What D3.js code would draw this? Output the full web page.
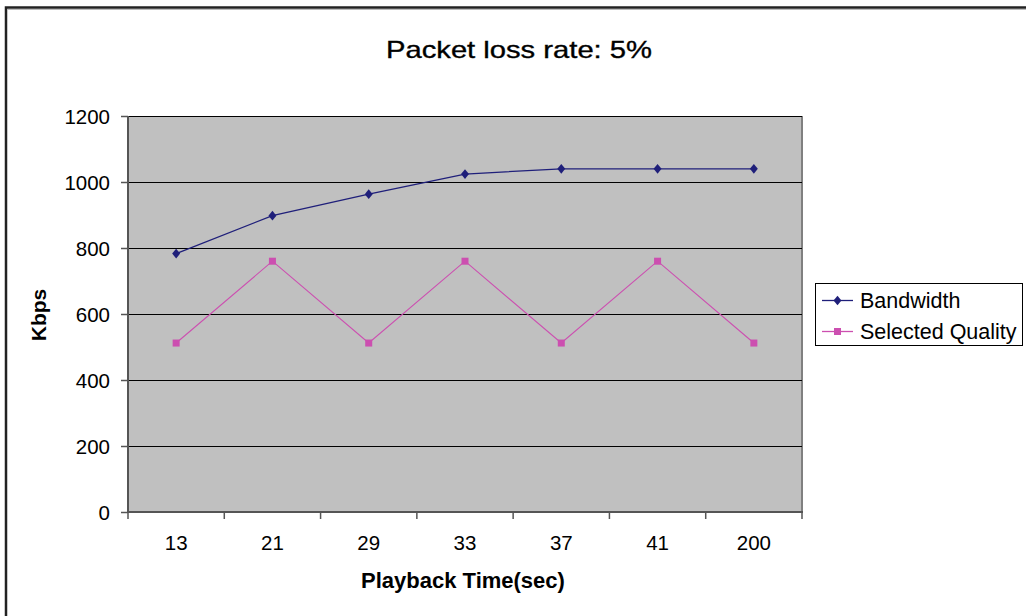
<!DOCTYPE html>
<html><head><meta charset="utf-8">
<script src="https://cdn.jsdelivr.net/npm/d3@7"></script>
<style>body{margin:0;background:#fff}svg{display:block}text{font-family:"Liberation Sans",Arial,sans-serif}</style>
</head><body>
<svg id="c" width="1026" height="616"></svg>
<script>
const categories = ["13","21","29","33","37","41","200"];
const bandwidth = [783, 898, 963, 1024, 1040, 1040, 1040];
const selectedQuality = [512, 760, 512, 760, 512, 760, 512];
const yTicks = [0,200,400,600,800,1000,1200];
const seriesNames = ["Bandwidth","Selected Quality"];
const colors = ["#1f1f7a","#cc4fb0"];

const svg = d3.select("#c");
const L=128,R=802,T=116,B=512;
svg.append("path").attr("d","M6,620 V7.5 H1030").attr("fill","none").attr("stroke","#222").attr("stroke-width",2.5);
svg.append("line").attr("x1",7).attr("x2",1030).attr("y1",9.5).attr("y2",9.5).attr("stroke","#bbb").attr("stroke-width",1);

const x = d3.scaleBand().domain(categories).range([L,R]);
const y = d3.scaleLinear().domain([0,1200]).range([B,T]);

svg.append("rect").attr("x",L).attr("y",T).attr("width",R-L).attr("height",B-T).attr("fill","#c0c0c0");
svg.append("line").attr("x1",R).attr("x2",R).attr("y1",T).attr("y2",B).attr("stroke","#808080").attr("stroke-width",2);
svg.selectAll(".g").data(yTicks.filter(d=>d>0)).enter().append("line")
  .attr("x1",L).attr("x2",R).attr("y1",d=>Math.round(y(d))+0.5).attr("y2",d=>Math.round(y(d))+0.5)
  .attr("stroke","#000").attr("stroke-width",1.2);

const ya = svg.append("g").attr("transform",`translate(${L},0)`)
  .call(d3.axisLeft(y).tickValues(yTicks).tickFormat(d3.format("d")).tickSize(7).tickPadding(11));
const xa = svg.append("g").attr("transform",`translate(0,${B})`).call(d3.axisBottom(x).tickSize(0).tickPadding(23));
svg.selectAll(".xt").data(d3.range(categories.length+1)).enter().append("line")
  .attr("x1",i=>L+i*x.step()).attr("x2",i=>L+i*x.step()).attr("y1",B).attr("y2",B+7).attr("stroke","#555").attr("stroke-width",1.5);
[ya,xa].forEach(a=>{a.attr("font-size",20.5).attr("font-family","Liberation Sans, Arial, sans-serif");
  a.selectAll("line").attr("stroke","#555").attr("stroke-width",1.5);
  a.selectAll("text").attr("fill","#000");});
ya.select(".domain").attr("d",`M0,${T}V${B+1}`).attr("stroke","#555").attr("stroke-width",2);
xa.select(".domain").attr("d",`M${L},0H${R+1}`).attr("stroke","#555").attr("stroke-width",2);
ya.selectAll("text").attr("dy","0.36em");

const cx = d => x(d)+x.bandwidth()/2;
const line = d3.line().x(d=>cx(d[0])).y(d=>y(d[1]));
const bwData = categories.map((c,i)=>[c,bandwidth[i]]);
const sqData = categories.map((c,i)=>[c,selectedQuality[i]]);
svg.append("path").attr("d",line(bwData)).attr("fill","none").attr("stroke",colors[0]).attr("stroke-width",1.3);
svg.append("path").attr("d",line(sqData)).attr("fill","none").attr("stroke",colors[1]).attr("stroke-width",1.1);
const diamond = d3.symbol().type(d3.symbolDiamond).size(30);
svg.selectAll(".bm").data(bwData).enter().append("path").attr("d",diamond)
  .attr("transform",d=>`translate(${cx(d[0])},${y(d[1])}) scale(1.35,0.95)`).attr("fill",colors[0]);
svg.selectAll(".sm").data(sqData).enter().append("rect")
  .attr("x",d=>cx(d[0])-3.5).attr("y",d=>y(d[1])-3.5).attr("width",7).attr("height",7).attr("fill",colors[1]);

svg.append("text").attr("x",519).attr("y",58).attr("text-anchor","middle").attr("font-size",24)
  .attr("textLength",266).attr("lengthAdjust","spacingAndGlyphs").attr("stroke","#000").attr("stroke-width",0.35)
  .text("Packet loss rate: 5%");
svg.append("text").attr("x",463).attr("y",588).attr("text-anchor","middle").attr("font-size",22).attr("font-weight","bold").text("Playback Time(sec)");
svg.append("text").attr("transform","translate(46,315) rotate(-90)").attr("text-anchor","middle").attr("font-size",21).attr("font-weight","bold").text("Kbps");

const lg = svg.append("g");
lg.append("rect").attr("x",815.5).attr("y",283.5).attr("width",207).attr("height",62).attr("fill","#fff").attr("stroke","#000").attr("stroke-width",1);
seriesNames.forEach((n,i)=>{
  const yy = 300.5+i*31;
  lg.append("line").attr("x1",822).attr("x2",853).attr("y1",yy).attr("y2",yy).attr("stroke",colors[i]).attr("stroke-width",1.3);
  if(i===0) lg.append("path").attr("d",diamond).attr("transform",`translate(837.5,${yy}) scale(1.35,0.95)`).attr("fill",colors[i]);
  else lg.append("rect").attr("x",834).attr("y",yy-3.5).attr("width",7).attr("height",7).attr("fill",colors[i]);
  lg.append("text").attr("x",860).attr("y",yy+7).attr("font-size",21.5).text(n);
});
</script>
</body></html>
